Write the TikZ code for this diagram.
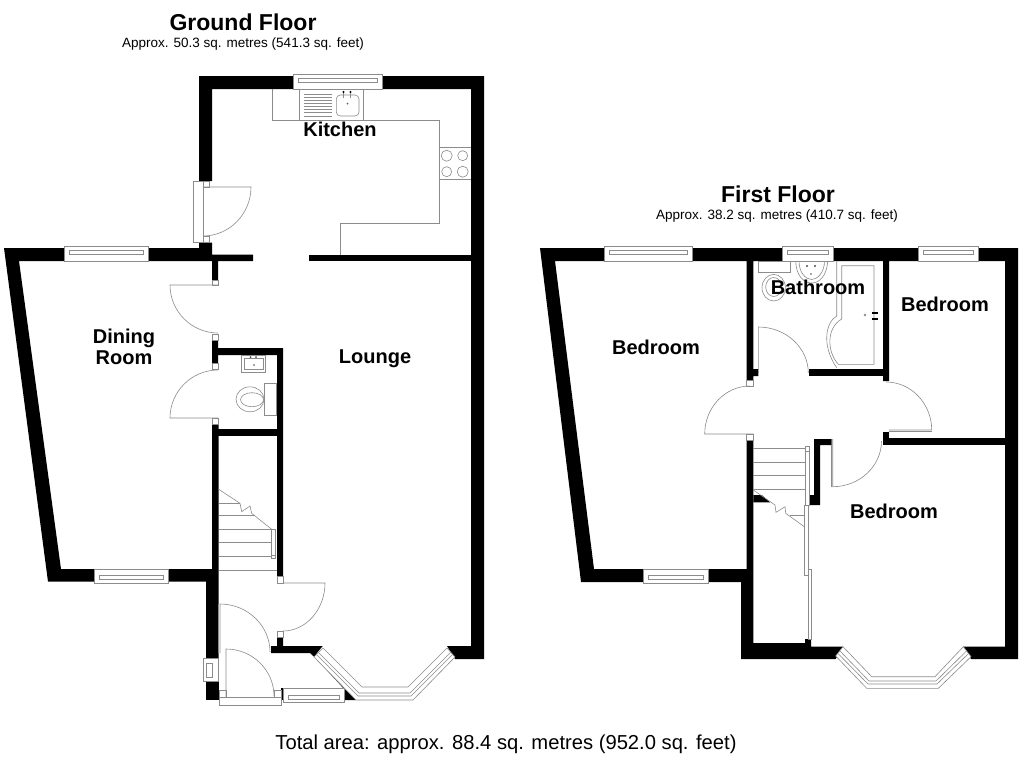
\documentclass[tikz,border=0pt]{standalone}
\usepackage{fontspec}
\setmainfont{Liberation Sans}
\usepackage{tikz}
\usetikzlibrary{calc}
\tikzstyle{wall}=[fill=black]
\tikzstyle{fitting}=[draw=black!45, line width=0.6pt]
\tikzstyle{frame}=[draw=black!45, fill=white, line width=0.6pt]
\tikzstyle{room}=[font=\bfseries\fontsize{20}{21}\selectfont, align=center, inner sep=0pt]
\tikzstyle{title}=[font=\bfseries\fontsize{23}{26}\selectfont, inner sep=0pt]
\tikzstyle{approx}=[font=\fontsize{13.5}{15}\selectfont, inner sep=0pt]
\newcommand{\hwindow}[5]{
    \draw[frame] (#1,#2) rectangle (#3,#4);
    \draw[fitting] ({#1+5},{#2+#5}) rectangle ({#3-5},{#2+#5+4});
}
\newcommand{\doorswing}[4]{
    \draw[fitting] (#1) -- (#2) .. controls ($(#2)!0.55!(#3)$) and ($(#4)!0.55!(#3)$) .. (#4);
}
\begin{document}
\begin{tikzpicture}[x=1pt, y=-1pt]
    \useasboundingbox (0,0) rectangle (1024,768);
    \fill[white] (0,0) rectangle (1024,768);

    \node[title] (groundtitle) at (243,22) {Ground Floor};
    \node[approx] (groundarea) at (243,44.5) {Approx. 50.3 sq. metres (541.3 sq. feet)};
    \node[title] (firsttitle) at (778,194) {First Floor};
    \node[approx] (firstarea) at (777,216.5) {Approx. 38.2 sq. metres (410.7 sq. feet)};
    \node[inner sep=0pt, font=\fontsize{20.2}{23}\selectfont] (totalarea) at (506,744.5) {Total area: approx. 88.4 sq. metres (952.0 sq. feet)};

    % ground floor walls
    \fill[wall] (199,76) -- (484,76) -- (484,659) -- (455,659) -- (447,646) -- (471,646) -- (471,89) -- (212,89) -- (212,181) -- (199,181) -- cycle;
    \fill[wall] (4,248) -- (199,248) -- (199,242.5) -- (212,242.5) -- (212,254.5) -- (253,254.5) -- (253,261) -- (218,261) -- (218,280) -- (212,280) -- (212,261) -- (19,261) -- (61,569) -- (206,569) -- (206,581.7) -- (48,581.7) -- cycle;
    \fill[wall] (308.5,254.5) rectangle (471,261);
    \fill[wall] (212,424) -- (218.7,424) -- (218.7,658) -- (206,658) -- (206,569) -- (212,569) -- cycle;
    \fill[wall] (206,681) rectangle (219,700);
    \fill[wall] (212,340) -- (218,340) -- (218,348) -- (283,348) -- (283,576) -- (277,576) -- (277,355) -- (218,355) -- (218,363) -- (212,363) -- cycle;
    \fill[wall] (218,429) rectangle (277,435.7);
    \fill[wall] (277,637) -- (283,637) -- (283,646) -- (322.7,646) -- (314,656.7) -- (310,653) -- (271,653) -- (271,646) -- (277,646) -- cycle;
    \fill[wall] (281,688) rectangle (283,700);
    \fill[wall] (314,656) -- (315,655.5) -- (345,688) -- (356,700) -- (344,700) -- (344,689) -- cycle;

    % ground floor windows
    \hwindow{293.5}{74}{382.5}{89}{4}
    \hwindow{64}{246.5}{148}{261}{4}
    \hwindow{94}{569}{168}{583}{6}
    \hwindow{283}{688}{344}{702}{7}
    \draw[frame] (203.3,658) rectangle (218.7,681);
    \draw[fitting] (206.7,663) rectangle (212.7,677);
    \draw[frame] (323,648) -- (362,687) -- (408,687) -- (447,648) -- (455,657) -- (413,700) -- (356,700) -- (314,657) -- cycle;
    \draw[fitting] (316.5,654.5) -- (358,696) -- (411,696) -- (452.5,654.5);
    \draw[fitting] (318.5,652.5) -- (359,693) -- (410,693) -- (451,652);

    % ground floor doors
    \draw[frame] (193.5,181) rectangle (203,242.5);
    \draw[frame] (203,181) rectangle (209,187);
    \draw[frame] (203,236) rectangle (209,242.5);
    \doorswing{203,187}{251,187}{251,236}{203,236}
    \draw[frame] (212,280) rectangle (218,285);
    \draw[frame] (212,334) rectangle (218,340);
    \doorswing{218,285}{170,285}{170,333}{218,333}
    \draw[frame] (212,363) rectangle (218,369);
    \draw[frame] (212,418) rectangle (218,424);
    \doorswing{218,418}{170,418}{170,370}{218,370}
    \draw[frame] (277,576) rectangle (283,583);
    \draw[frame] (277,631) rectangle (283,637);
    \doorswing{283,583}{325,583}{325,631}{283,631}
    \draw[fitting] (218.7,604) -- (218.7,653);
    \doorswing{220,653}{220,604}{270,604}{270,652}
    \draw[frame] (219.5,697) rectangle (281,705);
    \draw[frame] (219.5,690) rectangle (226,697);
    \draw[frame] (274,690) rectangle (281,697);
    \doorswing{226,697}{226,649}{274,649}{274,696}

    % ground floor stairs
    \draw[fitting] (218.7,489.3) -- (240,503.3) -- (241.7,511.7) -- (250,506) -- (251.7,513.3) -- (271.7,529.3);
    \draw[fitting] (218.7,503.3) -- (240,503.3) (218.7,515.7) -- (255,515.7) (218.7,529.3) -- (271.7,529.3) (218.7,542.3) -- (271.7,542.3) (218.7,556) -- (271.7,556) (218.7,570) -- (277,570);
    \draw[fitting] (271.7,529.3) rectangle (275.6,556);
    \draw[frame] (271,555) rectangle (275,558.5);

    % kitchen and cloakroom fittings
    \draw[fitting] (272.7,89) -- (272.7,120.3) -- (439,120.3) -- (439,223) -- (340.3,223) -- (340.3,254.5);
    \draw[fitting] (439,147.3) -- (471,147.3) (439,179.3) -- (471,179.3);
    \draw[fitting] (446.7,155.7) circle[radius=5.5] (462.7,155.7) circle[radius=5] (446.7,171.7) circle[radius=5] (462.7,171.7) circle[radius=5.5];
    \draw[fitting] (299.3,89) rectangle (363.3,120.3);
    \draw[fitting] (304.3,94) -- (332,94) (304.3,97) -- (332,97) (304.3,100) -- (332,100) (304.3,103) -- (332,103) (304.3,106) -- (332,106) (304.3,109) -- (332,109) (304.3,112.5) -- (332,112.5) (304.3,116) -- (332,116);
    \draw[fitting, rounded corners=4pt] (336.3,95) rectangle (359,116);
    \fill[black] (343.5,92) circle[radius=1.2] (350.5,92) circle[radius=1.2];
    \fill[black!60] (347.5,103.7) circle[radius=1];
    \draw[fitting] (343.5,93) -- (343.5,98) (350.5,93) -- (350.5,98);

    \draw[fitting] (241.7,355) rectangle (265.7,372.7);
    \draw[fitting] (244,358) rectangle (263,369);
    \fill[black!70] (250.5,357) circle[radius=1] (256,357) circle[radius=1] (254,365) circle[radius=0.8];
    \draw[fitting] (264.3,383) rectangle (276,415.7);
    \draw[fitting] (250,399.3) ellipse[x radius=14, y radius=12.5];
    \draw[fitting] (252,399.7) ellipse[x radius=11.5, y radius=7];

    % first floor walls
    \fill[wall] (540,248) -- (1018,248) -- (1018,659) -- (971,659) -- (963.3,646.7) -- (1005,646.7) -- (1005,261) -- (889,261) -- (889,381) -- (883,381) -- (883,261) -- (753.3,261) -- (753.3,369) -- (758.3,369) -- (758.3,376) -- (753.3,376) -- (753.3,380) -- (746.7,380) -- (746.7,261) -- (555,261) -- (594,569) -- (746.7,569) -- (746.7,440) -- (753.3,440) -- (753.3,643) -- (805,643) -- (805,639) -- (811,639) -- (811,646.7) -- (843,646.7) -- (835.7,659) -- (741,659) -- (741,582) -- (581,582) -- cycle;
    \fill[wall] (809,369) rectangle (883,375.7);
    \fill[wall] (883,431.5) rectangle (889,445);
    \fill[wall] (883,438.3) rectangle (1005,445);
    \fill[wall] (814,439) -- (831.7,439) -- (831.7,445) -- (820,445) -- (820,505) -- (809.3,505) -- (809.3,495) -- (814,495) -- cycle;
    \fill[wall] (753.3,495) -- (761.7,495) -- (770,502.3) -- (753.3,502.3) -- cycle;

    % first floor windows
    \hwindow{604.5}{246.5}{692}{261}{4}
    \hwindow{782.3}{246.5}{833.3}{261}{4}
    \hwindow{918.3}{246.5}{978.3}{261}{4}
    \hwindow{643}{569}{708.5}{583}{6}
    \draw[frame] (843,646.7) -- (871.7,676.7) -- (935,676.7) -- (963.3,646.7) -- (971,656.7) -- (938.3,688.3) -- (866.7,688.3) -- (835.7,656) -- cycle;
    \draw[fitting] (838,653.5) -- (868,684) -- (937,684) -- (968.5,653.5);
    \draw[fitting] (840,651) -- (869,681) -- (936,681) -- (966.5,651);

    % first floor doors
    \draw[frame] (746.7,380) rectangle (753.3,386);
    \draw[frame] (746.7,434) rectangle (753.3,440);
    \doorswing{753.3,434}{704.7,434}{704.7,386}{750,386}
    \doorswing{758.3,373}{758.3,327}{808.3,327}{808.3,373}
    \doorswing{889,430}{931.7,430}{931.7,382}{886,382}
    \draw[fitting] (889,431.5) -- (931.7,431.5);
    \doorswing{832.7,439}{832.7,486.7}{881.5,486.7}{881.5,441}
    \draw[fitting] (831,445) -- (831,486.7);

    % first floor stairs and sliding doors
    \draw[fitting] (753.3,490) -- (775,505) -- (776,512.3) -- (785,506.7) -- (785.7,513.3) -- (804.3,526.7);
    \draw[fitting] (753.3,448.3) -- (805.7,448.3) (753.3,462.3) -- (805.7,462.3) (753.3,475.7) -- (805.7,475.7) (753.3,489.3) -- (805.7,489.3) (790,515) -- (804.3,515);
    \draw[fitting] (805.7,448.3) rectangle (809.3,505);
    \draw[frame] (805,446) rectangle (809.3,451);
    \draw[frame] (804.3,505.7) rectangle (808.7,575.7);
    \draw[frame] (808,569.3) rectangle (811.3,639);

    % bathroom fittings
    \draw[fitting] (758.3,261) rectangle (790,272.7);
    \draw[fitting] (773.7,287.7) ellipse[x radius=11.7, y radius=13.3];
    \draw[fitting] (773.7,287) ellipse[x radius=8, y radius=9.5];
    \draw[fitting] (795.7,261) .. controls (796,276) and (804,283) .. (811.7,283) .. controls (819,283) and (827,276) .. (827.7,261);
    \draw[fitting] (799,261) .. controls (799,273) and (806,279.5) .. (811.7,279.5) .. controls (817,279.5) and (824.5,273) .. (824.5,261);
    \fill[black!70] (807,266) circle[radius=1.2] (815,266) circle[radius=1.2] (811,274) circle[radius=0.8];
    \draw[fitting] (836.7,261) -- (836.7,316) .. controls (826,322) and (821,345) .. (836.7,367.7);
    \draw[fitting] (841.7,265.7) -- (874,265.7) -- (874,364.3) -- (838.3,364.3) .. controls (827,352) and (826,328) .. (841.7,319) -- cycle;
    \fill[black!45] (865,315) circle[radius=1.3];
    \fill[black] (872,312) rectangle (878,314);
    \fill[black] (872,317.5) rectangle (878,319.5);

    % room labels
    \node[room] (kitchen) at (340,129.5) {Kitchen};
    \node[room] (dining) at (124,347) {Dining\\Room};
    \node[room] (lounge) at (375,358.5) {Lounge};
    \node[room] (bedroomleft) at (656,347.5) {Bedroom};
    \node[room] (bathroom) at (818,287.5) {Bathroom};
    \node[room] (bedroomsmall) at (945,304.5) {Bedroom};
    \node[room] (bedroomfront) at (894,511.5) {Bedroom};
\end{tikzpicture}
\end{document}
